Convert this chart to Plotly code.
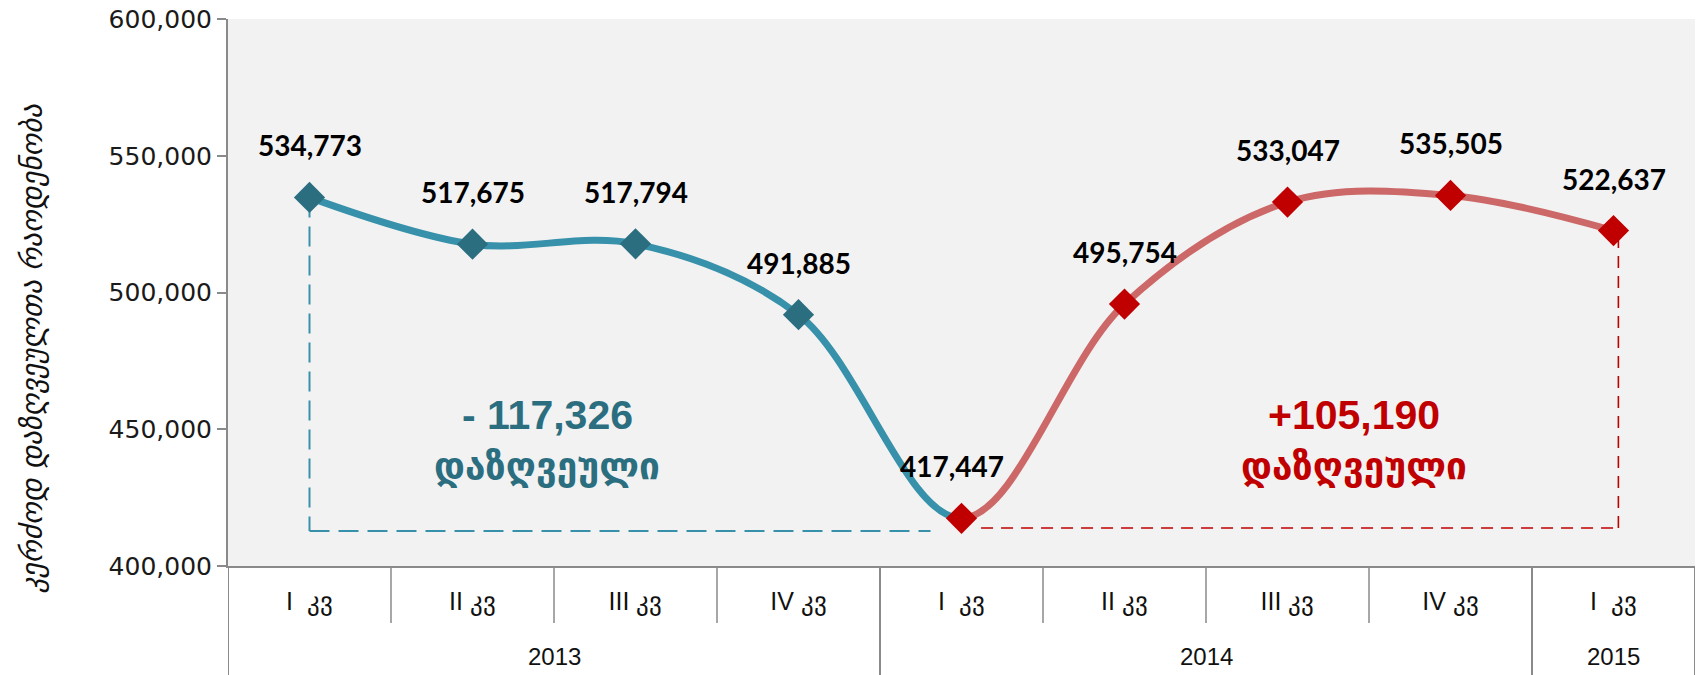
import plotly.graph_objects as go

# ---- data ----
quarters = ["I  კვ", "II კვ", "III კვ", "IV კვ", "I  კვ", "II კვ", "III კვ", "IV კვ", "I  კვ"]
years = ["2013", "2013", "2013", "2013", "2014", "2014", "2014", "2014", "2015"]
values = [534773, 517675, 517794, 491885, 417447, 495754, 533047, 535505, 522637]
loss_text = "- 117,326"
gain_text = "+105,190"
insured_word = "დაზღვეული"
y_title = "კერძოდ დაზღვეულთა რაოდენობა"
blue_base = 412800   # level of the blue dashed guide
red_base = 413900    # level of the red dashed guide

n = len(values)
xs = list(range(n))
split = 4  # index of the minimum (I კვ 2014)
xmin, xmax = -0.5, n - 0.5
split_frac = (split - xmin) / (xmax - xmin)

BLUE_LINE = "#3891aa"
BLUE_MK = "#2b6e80"
RED_LINE = "#cc6868"
RED_MK = "#c00000"
AXIS = "#8a8a8a"
PLOT_BG = "#f2f2f2"

fig = go.Figure()
# lines: each colour drawn with one neighbour beyond the split so the spline is
# continuous, then clipped at the split by its own axis domain
fig.add_trace(go.Scatter(x=xs[:split + 2], y=values[:split + 2], mode="lines",
                         xaxis="x", yaxis="y",
                         line=dict(color=BLUE_LINE, width=7, shape="spline", smoothing=1.0),
                         hoverinfo="skip", showlegend=False))
fig.add_trace(go.Scatter(x=xs[split - 1:], y=values[split - 1:], mode="lines",
                         xaxis="x2", yaxis="y",
                         line=dict(color=RED_LINE, width=7, shape="spline", smoothing=1.0),
                         hoverinfo="skip", showlegend=False))
fig.add_trace(go.Scatter(x=xs[:split], y=values[:split], mode="markers", xaxis="x3", yaxis="y",
                         marker=dict(symbol="diamond", size=24, color=BLUE_MK),
                         showlegend=False, cliponaxis=False))
fig.add_trace(go.Scatter(x=xs[split:], y=values[split:], mode="markers", xaxis="x3", yaxis="y",
                         marker=dict(symbol="diamond", size=24, color=RED_MK),
                         showlegend=False, cliponaxis=False))

# plot-area background (drawn beneath every subplot)
fig.add_shape(type="rect", xref="paper", yref="paper", x0=0, x1=1, y0=0, y1=1,
              fillcolor=PLOT_BG, line=dict(width=0), layer="below")

# data labels
for i, v in enumerate(values):
    fig.add_annotation(x=xs[i], y=v, xref="x3", yref="y", text=f"{v:,}", showarrow=False,
                       yshift=52, xshift=(-10 if i == split else 0),
                       font=dict(family="Lato", size=28, color="#000000", weight="bold"))

# dashed guides
fig.add_shape(type="line", xref="x3", yref="y", x0=xs[0], x1=xs[0], y0=values[0], y1=blue_base,
              line=dict(color=BLUE_LINE, width=2, dash="20px,9px"), layer="below")
fig.add_shape(type="line", xref="x3", yref="y", x0=xs[0], x1=xs[split] - 0.19, y0=blue_base, y1=blue_base,
              line=dict(color=BLUE_LINE, width=2, dash="20px,9px"), layer="below")
fig.add_shape(type="line", xref="x3", yref="y", x0=xs[split] + 0.12, x1=xs[-1] + 0.03, y0=red_base, y1=red_base,
              line=dict(color=RED_MK, width=1.6, dash="12px,8px"), layer="below")
fig.add_shape(type="line", xref="x3", yref="y", x0=xs[-1] + 0.03, x1=xs[-1] + 0.03, y0=red_base, y1=values[-1],
              line=dict(color=RED_MK, width=1.6, dash="12px,8px"), layer="below")

# big change annotations
left_c = (xs[0] + xs[split]) / 2 - 0.54
right_c = (xs[split] + xs[-1]) / 2 + 0.41
for cx, txt, col in [(left_c, loss_text, BLUE_MK), (right_c, gain_text, RED_MK)]:
    fig.add_annotation(x=cx, y=455300, xref="x3", yref="y", text=txt, showarrow=False,
                       font=dict(family="Liberation Sans", size=41, color=col, weight="bold"))
    fig.add_annotation(x=cx, y=436300, xref="x3", yref="y", text=insured_word, showarrow=False,
                       font=dict(family="DejaVu Sans", size=37, color=col, weight="bold"))

# category dividers (quarter level and year level)
quarter_len = 57 / 547
year_len = 109 / 547
for b in range(n + 1):
    pos = b - 0.5
    is_year_edge = b == 0 or b == n or years[b] != years[b - 1]
    fig.add_shape(type="line", xref="x3", yref="paper", x0=pos, x1=pos, y0=0,
                  y1=-(year_len if is_year_edge else quarter_len),
                  line=dict(color=AXIS, width=2 if is_year_edge else 1.5))

# year labels
for yr in dict.fromkeys(years):
    idx = [i for i, y in enumerate(years) if y == yr]
    fig.add_annotation(x=sum(idx) / len(idx), xref="x3", y=-0.166, yref="paper",
                       text=yr, showarrow=False, yanchor="middle",
                       font=dict(family="Liberation Sans", size=24, color="#111111"))

# y axis title
fig.add_annotation(xref="paper", yref="paper", x=-0.1336, y=0.397, text=y_title,
                   textangle=-90, showarrow=False, xanchor="center", yanchor="middle",
                   font=dict(family="DejaVu Sans", size=29, color="#111111", style="italic"))

hidden = dict(visible=False, showgrid=False, zeroline=False, anchor="y")
fig.update_layout(
    width=1698, height=675, autosize=False,
    margin=dict(l=228, r=3, t=19, b=109),
    paper_bgcolor="#ffffff", plot_bgcolor="rgba(0,0,0,0)",
    showlegend=False,
    xaxis=dict(domain=[0, split_frac], range=[xmin, split], **hidden),
    xaxis2=dict(domain=[split_frac, 1], range=[split, xmax], **hidden),
    xaxis3=dict(domain=[0, 1], range=[xmin, xmax], anchor="y",
                tickmode="array", tickvals=xs, ticktext=quarters,
                showgrid=False, zeroline=False, showline=True, linecolor=AXIS, linewidth=2,
                ticks="", ticklabelstandoff=12,
                tickfont=dict(family="Liberation Sans", size=25, color="#111111")),
    yaxis=dict(range=[400000, 600000], dtick=50000, tickformat=",", showgrid=False,
               anchor="x3",
               zeroline=False, showline=True, linecolor=AXIS, linewidth=2,
               ticks="outside", ticklen=9, tickcolor=AXIS, tickwidth=2,
               tickfont=dict(family="DejaVu Sans", size=25, color="#1a1a1a")),
)

fig.write_html("out.html", config={"displayModeBar": False},
               post_script="document.body.style.margin='0';document.body.style.overflow='hidden';")
